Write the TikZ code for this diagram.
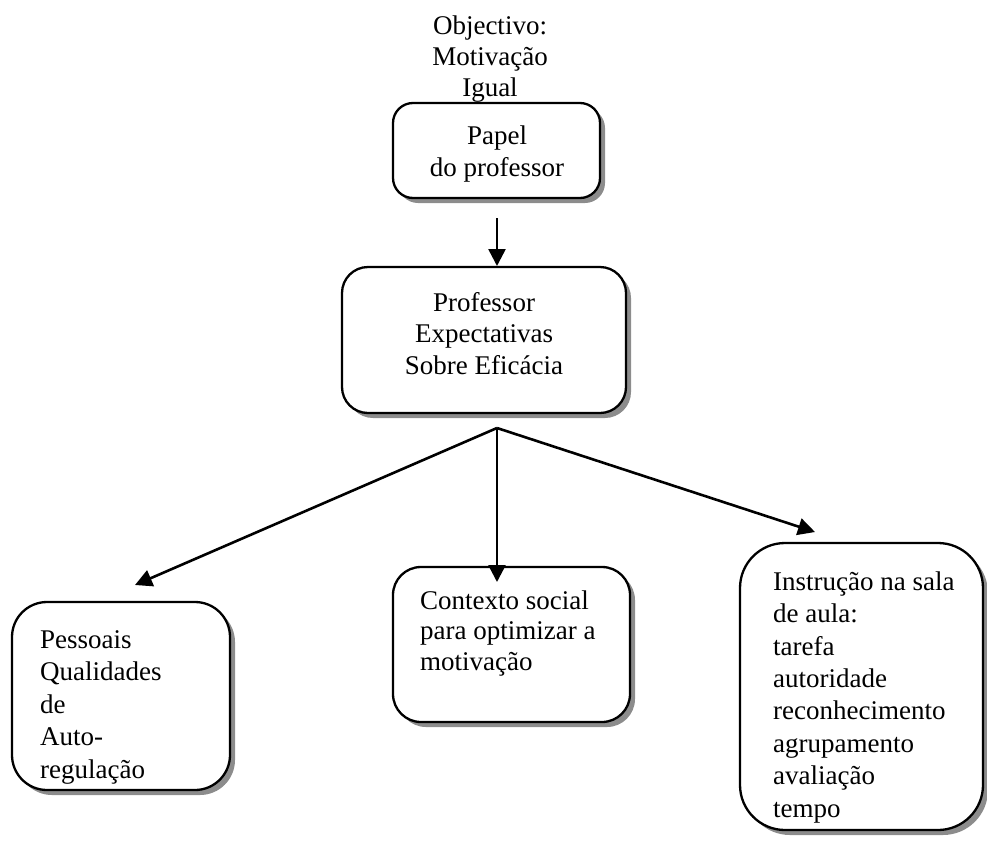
\documentclass[tikz,border=0pt]{standalone}
\usepackage{fontspec}
\setmainfont{Liberation Serif}
\usetikzlibrary{arrows.meta,shadows}
\begin{document}
\begin{tikzpicture}[x=1pt,y=-1pt,
  box/.style={draw=black,line width=2.3pt,fill=white,rounded corners=#1,
    drop shadow={shadow xshift=5pt,shadow yshift=-5pt,fill=black!45,opacity=1}},
  box/.default=20pt,
  txt/.style={inner sep=0pt,font=\fontsize{27}{32.4}\selectfont},
  arr/.style={line width=2.6pt,-{Triangle[length=17pt,width=17pt]}}
]
\useasboundingbox (0,0) rectangle (987,841);

% boxes
\node[box=20pt,minimum width=207pt,minimum height=95pt] (papel) at (496.5,150.5) {};
\node[box=26pt,minimum width=284pt,minimum height=146pt] (prof) at (484,340) {};
\node[box=35pt,minimum width=218pt,minimum height=188pt] (pess) at (121,696) {};
\node[box=28pt,minimum width=237pt,minimum height=155pt] (ctx) at (511.5,644.5) {};
\node[box=45pt,minimum width=243pt,minimum height=287pt] (instr) at (861.5,686.5) {};

% texts (anchored on the baseline of their last line)
\node[txt,align=center,anchor=base,font=\fontsize{27}{31}\selectfont] (goal) at (490,96) {Objectivo:\\Motivação\\Igual};
\node[txt,align=center,anchor=base,font=\fontsize{27}{32}\selectfont] (papelt) at (497,176) {Papel\\do professor};
\node[txt,align=center,anchor=base,font=\fontsize{27}{31.5}\selectfont] (proft) at (484,374) {Professor\\Expectativas\\Sobre Eficácia};
\node[txt,align=left,anchor=base west] (pesst) at (40,778) {Pessoais\\Qualidades\\de\\Auto-\\regulação};
\node[txt,align=left,anchor=base west,font=\fontsize{27}{30.5}\selectfont] (ctxt) at (420,670) {Contexto social\\para optimizar a\\motivação};
\node[txt,align=left,anchor=base west] (instrt) at (773,817) {Instrução na sala\\de aula:\\tarefa\\autoridade\\reconhecimento\\agrupamento\\avaliação\\tempo};

% connectors
\coordinate (hub) at (497,428);
\coordinate (down) at (497,218);
\coordinate (tipP) at (497,266);
\draw[arr] (down) -- (tipP);
\coordinate (tipL) at (135,585);
\coordinate (tipC) at (497,582);
\coordinate (tipR) at (815,532);
\draw[arr] (hub) -- (tipL);
\draw[arr] (hub) -- (tipC);
\draw[arr] (hub) -- (tipR);
\end{tikzpicture}
\end{document}
